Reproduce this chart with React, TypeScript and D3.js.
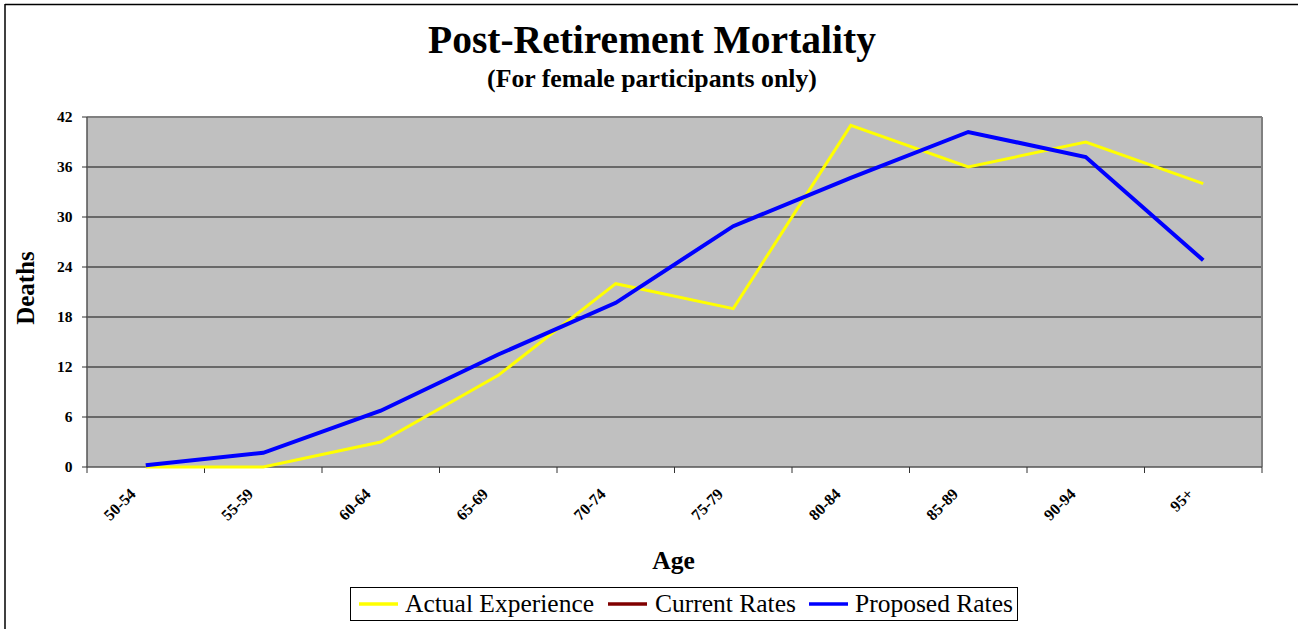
import React from "react";
import * as d3 from "d3";

const ageGroups = ["50-54", "55-59", "60-64", "65-69", "70-74", "75-79", "80-84", "85-89", "90-94", "95+"];
const actualExperience = [0, 0, 3, 11, 22, 19, 41, 36, 39, 34];
const currentRates: number[] = [];
const proposedRates = [0.2, 1.7, 6.75, 13.5, 19.7, 28.9, 34.7, 40.2, 37.2, 24.8];
const yTicks = [0, 6, 12, 18, 24, 30, 36, 42];

const W = 1298;
const H = 629;
const plot = { left: 87, right: 1262, top: 117, bottom: 467 };
const font = "'Liberation Serif', 'Times New Roman', serif";

export default function App() {
  const x = d3.scaleBand<string>().domain(ageGroups).range([plot.left, plot.right]);
  const y = d3.scaleLinear().domain([0, 42]).range([plot.bottom, plot.top]);
  const cx = (i: number) => (x(ageGroups[i]) as number) + x.bandwidth() / 2;
  const line = d3
    .line<number>()
    .x((_, i) => cx(i))
    .y((d) => y(d));
  const boundaries = d3.range(ageGroups.length + 1).map((i) => plot.left + i * x.bandwidth());

  const legendItems = [
    { label: "Actual Experience", color: "#FFFF00", lx: 359, tx: 405 },
    { label: "Current Rates", color: "#800000", lx: 608, tx: 655 },
    { label: "Proposed Rates", color: "#0000FF", lx: 809, tx: 855 },
  ];

  return (
    <svg width={W} height={H} style={{ position: "absolute", left: 0, top: 0, background: "#fff" }} fontFamily={font}>
      {/* chart border */}
      <line x1={5} y1={4.5} x2={W} y2={4.5} stroke="#000" strokeWidth={1.5} />
      <line x1={5} y1={4} x2={5} y2={H} stroke="#000" strokeWidth={1.5} />

      <text x={652} y={53} textAnchor="middle" fontSize={39.5} fontWeight="bold">Post-Retirement Mortality</text>
      <text x={652} y={87} textAnchor="middle" fontSize={25.8} fontWeight="bold">(For female participants only)</text>

      {/* plot area */}
      <rect x={plot.left} y={plot.top} width={plot.right - plot.left} height={plot.bottom - plot.top} fill="#C0C0C0" />
      {yTicks.filter((t) => t > 0 && t < 42).map((t) => (
        <line key={t} x1={plot.left} x2={plot.right} y1={y(t)} y2={y(t)} stroke="#111" strokeWidth={1} />
      ))}
      <line x1={plot.left} x2={plot.right} y1={plot.top} y2={plot.top} stroke="#808080" strokeWidth={2} />
      <line x1={plot.right} x2={plot.right} y1={plot.top} y2={plot.bottom} stroke="#808080" strokeWidth={2} />
      <line x1={plot.left} x2={plot.right} y1={plot.bottom} y2={plot.bottom} stroke="#555" strokeWidth={1.5} />
      <line x1={plot.left} x2={plot.left} y1={plot.top} y2={plot.bottom} stroke="#555" strokeWidth={1.5} />

      {/* y axis */}
      {yTicks.map((t) => (
        <g key={t}>
          <line x1={plot.left - 5} x2={plot.left} y1={y(t)} y2={y(t)} stroke="#333" strokeWidth={1} />
          <text x={72.5} y={y(t) + 5} textAnchor="end" fontSize={15.5} fontWeight="bold">{t}</text>
        </g>
      ))}
      <text transform={`translate(33.5,${288}) rotate(-90)`} textAnchor="middle" fontSize={25} fontWeight="bold">Deaths</text>

      {/* x axis */}
      {boundaries.map((b, i) => (
        <line key={i} x1={b} x2={b} y1={plot.bottom} y2={plot.bottom + 6} stroke="#333" strokeWidth={1} />
      ))}
      {ageGroups.map((g, i) => (
        <text key={g} transform={`translate(${cx(i) - 9},${plot.bottom + 28}) rotate(-45)`} textAnchor="end" fontSize={16} fontWeight="bold">{g}</text>
      ))}
      <text x={673.5} y={569} textAnchor="middle" fontSize={25.5} fontWeight="bold">Age</text>

      {/* lines */}
      <path d={line(actualExperience) ?? ""} fill="none" stroke="#FFFF00" strokeWidth={3} />
      {currentRates.length > 0 && <path d={line(currentRates) ?? ""} fill="none" stroke="#800000" strokeWidth={3} />}
      <path d={line(proposedRates) ?? ""} fill="none" stroke="#0000FF" strokeWidth={4} />

      {/* legend */}
      <rect x={350.5} y={587.5} width={667} height={33} fill="#fff" stroke="#000" strokeWidth={1} />
      {legendItems.map((it) => (
        <g key={it.label}>
          <line x1={it.lx} x2={it.lx + 39} y1={604} y2={604} stroke={it.color} strokeWidth={3.5} />
          <text x={it.tx} y={612} fontSize={25.5}>{it.label}</text>
        </g>
      ))}
    </svg>
  );
}
